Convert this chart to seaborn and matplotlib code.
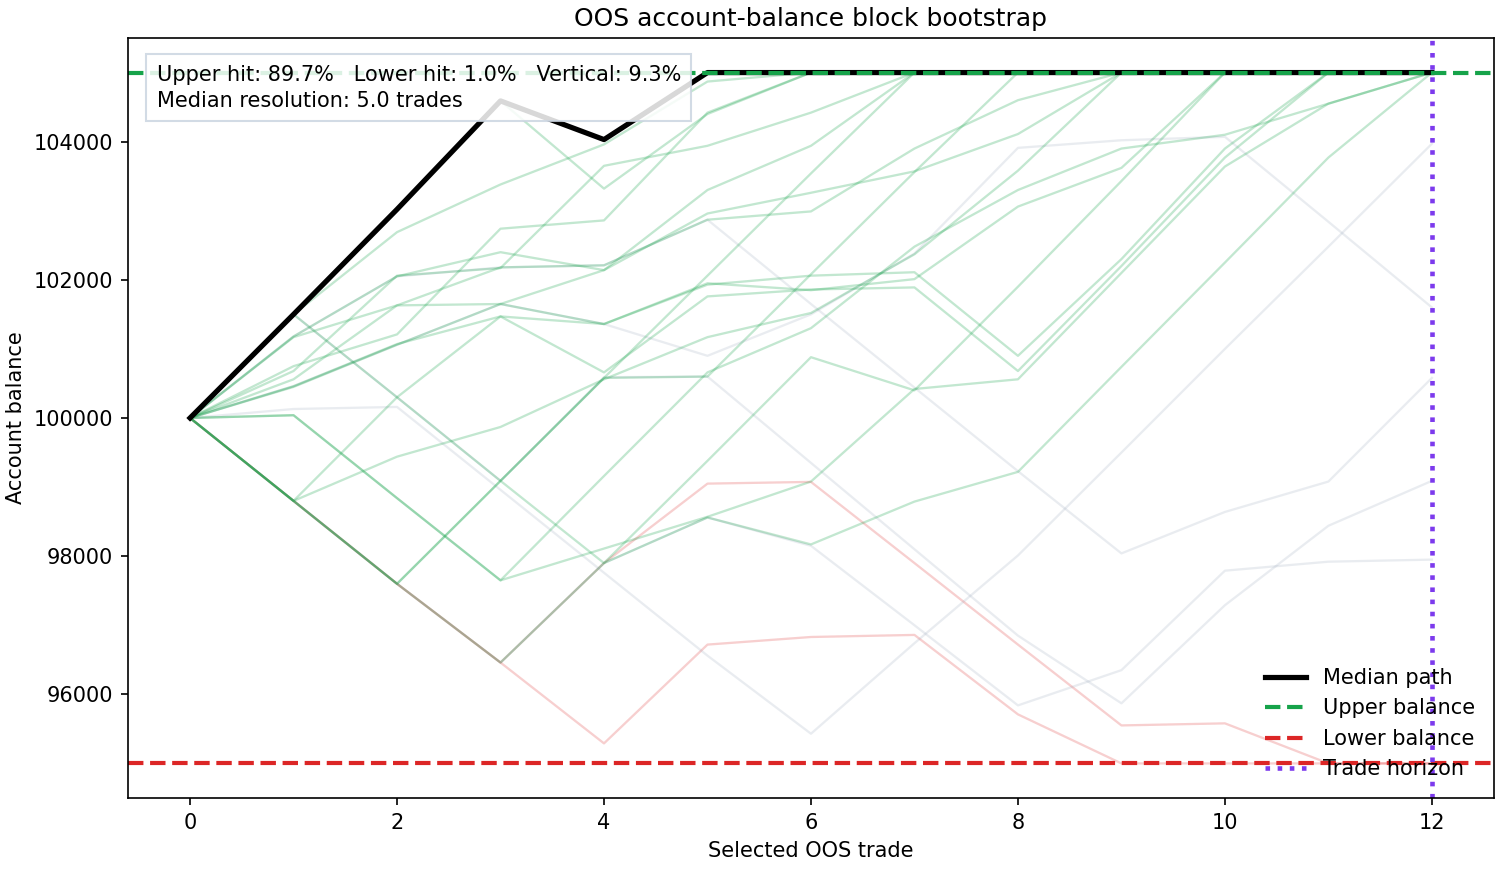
import matplotlib
matplotlib.use("Agg")
import matplotlib.pyplot as plt
import pandas as pd
import seaborn as sns

# trade index and barrier levels
trades = list(range(13))
upper_balance = 105000
lower_balance = 95000
trade_horizon = 12

median_path = [100000, 101500, 103020, 104590, 104030, 105000, 105000, 105000, 105000, 105000, 105000, 105000, 105000]

# sampled paths that hit the upper balance
upper_paths = [
    [100000, 101500, 102690, 103380, 103960, 104870, 105000, 105000, 105000, 105000, 105000, 105000, 105000],
    [100000, 101500, 103020, 104590, 103320, 104400, 105000, 105000, 105000, 105000, 105000, 105000, 105000],
    [100000, 100750, 101210, 102740, 102860, 104420, 105000, 105000, 105000, 105000, 105000, 105000, 105000],
    [100000, 101180, 102050, 102400, 102140, 103300, 103940, 105000, 105000, 105000, 105000, 105000, 105000],
    [100000, 98800, 97600, 99090, 100580, 102060, 103540, 105000, 105000, 105000, 105000, 105000, 105000],
    [100000, 100560, 101630, 101650, 101360, 101930, 102060, 102110, 100900, 102300, 103900, 105000, 105000],
    [100000, 100460, 101070, 101470, 100660, 101760, 101860, 101890, 100680, 102200, 103770, 105000, 105000],
    [100000, 100040, 98840, 97650, 98110, 98570, 99080, 100420, 100560, 102100, 103640, 104550, 105000],
    [100000, 101170, 101630, 102180, 102210, 102870, 102990, 103900, 104600, 105000, 105000, 105000, 105000],
    [100000, 100450, 101060, 101650, 102140, 102960, 103260, 103570, 104110, 105000, 105000, 105000, 105000],
    [100000, 98800, 99440, 99870, 100560, 101170, 101520, 102370, 103580, 105000, 105000, 105000, 105000],
    [100000, 98800, 100300, 101470, 101360, 101950, 101850, 102010, 103060, 103620, 105000, 105000, 105000],
    [100000, 101500, 100300, 99090, 97900, 99380, 100880, 100400, 101900, 103430, 105000, 105000, 105000],
    [100000, 98800, 97600, 96460, 97900, 98560, 98170, 98790, 99220, 100740, 102250, 103770, 105000],
    [100000, 100040, 98840, 97650, 99160, 100660, 101300, 102480, 103300, 103900, 104100, 104550, 105000],
    [100000, 98800, 97600, 99090, 100580, 100600, 102080, 103560, 105000, 105000, 105000, 105000, 105000],
    [100000, 100680, 102060, 102170, 103650, 103940, 104420, 105000, 105000, 105000, 105000, 105000, 105000],
]

# paths that reach the trade horizon without touching a barrier
vertical_paths = [
    [100000, 100460, 101060, 101650, 101360, 100900, 101500, 102380, 103910, 104020, 104070, 102840, 101600],
    [100000, 100130, 100160, 98960, 97760, 96560, 95430, 96740, 98010, 99500, 101000, 102480, 103970],
    [100000, 101180, 102050, 102180, 102210, 102870, 101650, 100440, 99230, 98040, 98640, 99080, 100580],
    [100000, 98800, 97600, 96460, 97900, 98560, 98150, 97000, 95840, 96350, 97790, 97920, 97950],
    [100000, 101500, 100300, 99090, 100590, 100600, 99350, 98100, 96850, 95870, 97290, 98440, 99090],
]

# paths that hit the lower balance
lower_paths = [
    [100000, 98800, 97600, 96460, 95290, 96720, 96830, 96860, 95710, 95000, 95000, 95000, 95000],
    [100000, 98800, 97600, 96460, 97900, 99050, 99075, 97900, 96720, 95550, 95580, 95000, 95000],
]

stats_text = "Upper hit: 89.7%   Lower hit: 1.0%   Vertical: 9.3%\nMedian resolution: 5.0 trades"

# long table for seaborn
rows = []
for outcome, paths in [("lower", lower_paths), ("vertical", vertical_paths), ("upper", upper_paths)]:
    for k, path in enumerate(paths):
        for t, b in zip(trades, path):
            rows.append({"trade": t, "balance": b, "outcome": outcome, "path": f"{outcome}_{k}"})
df = pd.DataFrame(rows)

colors = {"upper": "#16a34a", "vertical": "#94a3b8", "lower": "#dc2626"}
alphas = {"upper": 0.26, "vertical": 0.2, "lower": 0.22}

fig, ax = plt.subplots(figsize=(10, 5.8), dpi=150)
fig.subplots_adjust(left=0.0853, right=0.996, top=0.9563, bottom=0.0828)

for outcome in ["lower", "vertical", "upper"]:
    sns.lineplot(data=df[df["outcome"] == outcome], x="trade", y="balance", units="path",
                 estimator=None, color=colors[outcome], alpha=alphas[outcome],
                 linewidth=1.1, legend=False, ax=ax)
sns.lineplot(x=trades, y=median_path, color="black", linewidth=2.5,
             label="Median path", ax=ax)

ax.axhline(upper_balance, color="#16a34a", linestyle="--", linewidth=2, label="Upper balance")
ax.axhline(lower_balance, color="#dc2626", linestyle="--", linewidth=2, label="Lower balance")
ax.axvline(trade_horizon, color="#7c3aed", linestyle=":", linewidth=2.2, label="Trade horizon")

ax.text(0.021, 0.965, stats_text, transform=ax.transAxes, va="top", ha="left", fontsize=10,
        linespacing=1.4,
        bbox=dict(boxstyle="square,pad=0.5", facecolor="white", edgecolor="#cbd5e1", alpha=0.85))

ax.set_title("OOS account-balance block bootstrap", fontsize=12)
ax.set_xlabel("Selected OOS trade")
ax.set_ylabel("Account balance")
ax.legend(loc="lower right", frameon=False, fontsize=10)

fig.savefig("out.png", dpi=150)
